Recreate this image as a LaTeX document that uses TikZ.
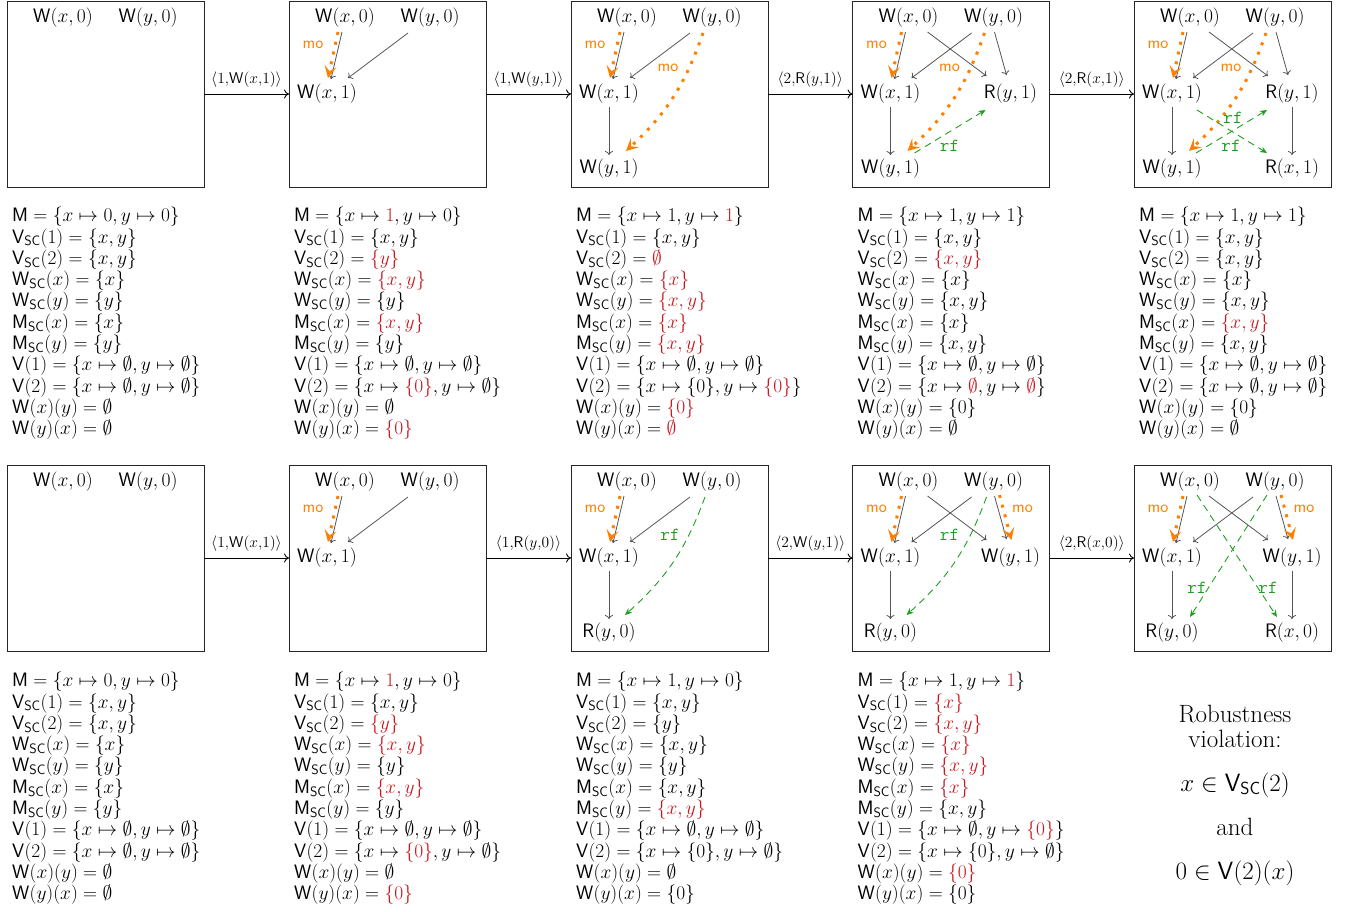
\RequirePackage{fix-cm}
\documentclass[tikz,border=0pt]{standalone}
\usepackage{amsmath}
\usetikzlibrary{arrows.meta,calc}
\definecolor{myred}{HTML}{C8161D}
\definecolor{moorange}{HTML}{FF8000}
\definecolor{rfgreen}{HTML}{1E9E1E}
\definecolor{pogray}{HTML}{555555}
\newcommand{\opM}{\mathsf{M}}
\newcommand{\opV}{\mathsf{V}}
\newcommand{\opW}{\mathsf{W}}
\newcommand{\opR}{\mathsf{R}}
\newcommand{\scsub}{_{\mathsf{SC}}}
\newcommand{\hl}[1]{\textcolor{myred}{#1}}
\tikzset{
 box/.style={draw=black!85, line width=0.9pt, minimum width=197pt, minimum height=186pt, inner sep=0pt, outer sep=0pt, anchor=north west},
 ev/.style={font=\fontsize{19.5}{21}\selectfont, inner sep=1pt},
 po/.style={draw=pogray, line width=0.8pt, -{To[length=4pt,width=8pt]}},
 mo/.style={draw=moorange, line width=3pt, dash pattern=on 3pt off 7pt, -{Stealth[length=12pt,width=12pt,inset=5pt]}},
 rf/.style={draw=rfgreen, line width=0.9pt, dash pattern=on 7pt off 5pt, -{Stealth[length=7pt,width=6pt]}},
 molbl/.style={text=moorange, font=\sffamily\fontsize{17}{17}\selectfont, inner sep=0pt},
 rflbl/.style={text=rfgreen, font=\ttfamily\fontsize{18.5}{18.5}\selectfont, inner sep=0pt},
 trans/.style={draw=black, line width=0.9pt, -{To[length=5pt,width=9pt]}},
 tlbl/.style={font=\fontsize{15.5}{15.5}\selectfont, inner sep=0pt, above=6pt},
 info/.style={font=\fontsize{19.4}{21.3}\selectfont, align=left, anchor=north west, inner sep=0pt},
 robust/.style={font=\fontsize{25}{25}\selectfont, align=center, anchor=north, inner sep=0pt},
}
% common edge groups
\newcommand{\edgesA}[1]{%
 \draw[po] ($(#1x0)+(-3,14)$) -- ($(#1a)+(4,-15)$);
 \draw[mo] ($(#1x0)+(-7,14)$) -- ($(#1a)+(1,-16)$);
 \draw[po] ($(#1y0)+(-22,15)$) -- ($(#1a)+(21,-16)$);
 \node[molbl] (#1lmo) at ($(#1x0)+(-32,27)$) {mo};}
\newcommand{\edgesB}[1]{%
 \draw[po] ($(#1x0)+(19,14)$) -- ($(#1b)+(-24,-18)$);
 \draw[po] ($(#1y0)+(1,14)$) -- ($(#1b)+(-4,-19)$);}
\newcommand{\blockA}{%
$\opM = \{x \mapsto 0, y \mapsto 0\}$\\
$\opV\scsub(1) = \{x, y\}$\\
$\opV\scsub(2) = \{x, y\}$\\
$\opW\scsub(x) = \{x\}$\\
$\opW\scsub(y) = \{y\}$\\
$\opM\scsub(x) = \{x\}$\\
$\opM\scsub(y) = \{y\}$\\
$\opV(1) = \{x \mapsto \emptyset, y \mapsto \emptyset\}$\\
$\opV(2) = \{x \mapsto \emptyset, y \mapsto \emptyset\}$\\
$\opW(x)(y) = \emptyset$\\
$\opW(y)(x) = \emptyset$}
\newcommand{\blockB}{%
$\opM = \{x \mapsto \hl{1}, y \mapsto 0\}$\\
$\opV\scsub(1) = \{x, y\}$\\
$\opV\scsub(2) = \hl{\{y\}}$\\
$\opW\scsub(x) = \hl{\{x, y\}}$\\
$\opW\scsub(y) = \{y\}$\\
$\opM\scsub(x) = \hl{\{x, y\}}$\\
$\opM\scsub(y) = \{y\}$\\
$\opV(1) = \{x \mapsto \emptyset, y \mapsto \emptyset\}$\\
$\opV(2) = \{x \mapsto \hl{\{0\}}, y \mapsto \emptyset\}$\\
$\opW(x)(y) = \emptyset$\\
$\opW(y)(x) = \hl{\{0\}}$}
\begin{document}
\begin{tikzpicture}[x=1pt,y=-1pt]
\useasboundingbox (0,0) rectangle (1358,911);
% boxes
\node[box] (b11) at (7,1) {};
\node[box] (b12) at (289,1) {};
\node[box] (b13) at (571,1) {};
\node[box] (b14) at (852.5,1) {};
\node[box] (b15) at (1134,1) {};
\node[box] (b21) at (7,465) {};
\node[box] (b22) at (289,465) {};
\node[box] (b23) at (571,465) {};
\node[box] (b24) at (852.5,465) {};
\node[box] (b25) at (1134,465) {};
% transitions
\draw[trans] (b11.east) -- node[tlbl] {$\langle 1{,}\opW(x{,}1)\rangle$} (b12.west);
\draw[trans] (b12.east) -- node[tlbl] {$\langle 1{,}\opW(y{,}1)\rangle$} (b13.west);
\draw[trans] (b13.east) -- node[tlbl] {$\langle 2{,}\opR(y{,}1)\rangle$} (b14.west);
\draw[trans] (b14.east) -- node[tlbl] {$\langle 2{,}\opR(x{,}1)\rangle$} (b15.west);
\draw[trans] (b21.east) -- node[tlbl] {$\langle 1{,}\opW(x{,}1)\rangle$} (b22.west);
\draw[trans] (b22.east) -- node[tlbl] {$\langle 1{,}\opR(y{,}0)\rangle$} (b23.west);
\draw[trans] (b23.east) -- node[tlbl] {$\langle 2{,}\opW(y{,}1)\rangle$} (b24.west);
\draw[trans] (b24.east) -- node[tlbl] {$\langle 2{,}\opR(x{,}0)\rangle$} (b25.west);

% ---------- Row 1 ----------
\begin{scope}[shift={(7,1)}]
\node[ev] (Px0) at (56,17) {$\opW(x, 0)$};
\node[ev] (Py0) at (141,17) {$\opW(y, 0)$};
\end{scope}
\begin{scope}[shift={(289,1)}]
\node[ev] (Qx0) at (56,17) {$\opW(x, 0)$};
\node[ev] (Qy0) at (141,17) {$\opW(y, 0)$};
\node[ev] (Qa) at (38,93) {$\opW(x, 1)$};
\end{scope}
\edgesA{Q}
\begin{scope}[shift={(571,1)}]
\node[ev] (Sx0) at (56,17) {$\opW(x, 0)$};
\node[ev] (Sy0) at (141,17) {$\opW(y, 0)$};
\node[ev] (Sa) at (38,93) {$\opW(x, 1)$};
\node[ev] (Sc) at (38,168) {$\opW(y, 1)$};
\end{scope}
\edgesA{S}
\draw[po] ($(Sa)+(0,13)$) -- ($(Sc)+(0,-14)$);
\draw[mo] ($(Sy0)+(-9,15)$) to[bend left=14] ($(Sc)+(17,-18)$);
\node[molbl] (Smo2) at ($(Sy0)+(-44,50)$) {mo};
\begin{scope}[shift={(852.5,1)}]
\node[ev] (Tx0) at (56,17) {$\opW(x, 0)$};
\node[ev] (Ty0) at (141,17) {$\opW(y, 0)$};
\node[ev] (Ta) at (38,93) {$\opW(x, 1)$};
\node[ev] (Tb) at (158,93) {$\opR(y, 1)$};
\node[ev] (Tc) at (38,168) {$\opW(y, 1)$};
\end{scope}
\edgesA{T}
\edgesB{T}
\draw[po] ($(Ta)+(0,13)$) -- ($(Tc)+(0,-14)$);
\draw[mo] ($(Ty0)+(-9,15)$) to[bend left=14] ($(Tc)+(17,-18)$);
\node[molbl] (Tmo2) at ($(Ty0)+(-44,50)$) {mo};
\draw[rf] ($(Tc)+(24,-16)$) -- ($(Tb)+(-25,16)$);
\node[rflbl] (Trf) at ($(Tc)+(59,-23)$) {rf};
\begin{scope}[shift={(1134,1)}]
\node[ev] (Ux0) at (56,17) {$\opW(x, 0)$};
\node[ev] (Uy0) at (141,17) {$\opW(y, 0)$};
\node[ev] (Ua) at (38,93) {$\opW(x, 1)$};
\node[ev] (Ub) at (158,93) {$\opR(y, 1)$};
\node[ev] (Uc) at (38,168) {$\opW(y, 1)$};
\node[ev] (Ud) at (158,168) {$\opR(x, 1)$};
\end{scope}
\edgesA{U}
\edgesB{U}
\draw[po] ($(Ua)+(0,13)$) -- ($(Uc)+(0,-14)$);
\draw[po] ($(Ub)+(0,13)$) -- ($(Ud)+(0,-14)$);
\draw[mo] ($(Uy0)+(-9,15)$) to[bend left=14] ($(Uc)+(17,-18)$);
\node[molbl] (Umo2) at ($(Uy0)+(-44,50)$) {mo};
\draw[rf] ($(Uc)+(24,-16)$) -- ($(Ub)+(-25,16)$);
\node[rflbl] (Urf1) at ($(Uc)+(59,-23)$) {rf};
\draw[rf] ($(Ua)+(25,16)$) -- ($(Ud)+(-25,-16)$);
\node[rflbl] (Urf2) at ($(Ua)+(61,24)$) {rf};

% ---------- Row 2 ----------
\begin{scope}[shift={(7,465)}]
\node[ev] (Vx0) at (56,17) {$\opW(x, 0)$};
\node[ev] (Vy0) at (141,17) {$\opW(y, 0)$};
\end{scope}
\begin{scope}[shift={(289,465)}]
\node[ev] (Wx0) at (56,17) {$\opW(x, 0)$};
\node[ev] (Wy0) at (141,17) {$\opW(y, 0)$};
\node[ev] (Wa) at (38,93) {$\opW(x, 1)$};
\end{scope}
\edgesA{W}
\begin{scope}[shift={(571,465)}]
\node[ev] (Xx0) at (56,17) {$\opW(x, 0)$};
\node[ev] (Xy0) at (141,17) {$\opW(y, 0)$};
\node[ev] (Xa) at (38,93) {$\opW(x, 1)$};
\node[ev] (Xc) at (38,168) {$\opR(y, 0)$};
\end{scope}
\edgesA{X}
\draw[po] ($(Xa)+(0,13)$) -- ($(Xc)+(0,-14)$);
\draw[rf] ($(Xy0)+(-7,15)$) to[bend left=14] ($(Xc)+(16,-18)$);
\node[rflbl] (Xrf) at ($(Xy0)+(-42,53)$) {rf};
\begin{scope}[shift={(852.5,465)}]
\node[ev] (Yx0) at (56,17) {$\opW(x, 0)$};
\node[ev] (Yy0) at (141,17) {$\opW(y, 0)$};
\node[ev] (Ya) at (38,93) {$\opW(x, 1)$};
\node[ev] (Yb) at (158,93) {$\opW(y, 1)$};
\node[ev] (Yc) at (38,168) {$\opR(y, 0)$};
\end{scope}
\edgesA{Y}
\edgesB{Y}
\draw[mo] ($(Yy0)+(6,13)$) -- ($(Yb)+(1,-18)$);
\node[molbl] (Ymo2) at ($(Yy0)+(29,27)$) {mo};
\draw[po] ($(Ya)+(0,13)$) -- ($(Yc)+(0,-14)$);
\draw[rf] ($(Yy0)+(-7,15)$) to[bend left=14] ($(Yc)+(16,-18)$);
\node[rflbl] (Yrf) at ($(Yy0)+(-44,53)$) {rf};
\begin{scope}[shift={(1134,465)}]
\node[ev] (Zx0) at (56,17) {$\opW(x, 0)$};
\node[ev] (Zy0) at (141,17) {$\opW(y, 0)$};
\node[ev] (Za) at (38,93) {$\opW(x, 1)$};
\node[ev] (Zb) at (158,93) {$\opW(y, 1)$};
\node[ev] (Zc) at (38,168) {$\opR(y, 0)$};
\node[ev] (Zd) at (158,168) {$\opR(x, 0)$};
\end{scope}
\edgesA{Z}
\edgesB{Z}
\draw[mo] ($(Zy0)+(6,13)$) -- ($(Zb)+(1,-18)$);
\node[molbl] (Zmo2) at ($(Zy0)+(29,27)$) {mo};
\draw[po] ($(Za)+(0,13)$) -- ($(Zc)+(0,-14)$);
\draw[po] ($(Zb)+(0,13)$) -- ($(Zd)+(0,-14)$);
\draw[rf] ($(Zy0)+(-8,13)$) -- ($(Zc)+(18,-16)$);
\draw[rf] ($(Zx0)+(7,13)$) -- ($(Zd)+(-15,-16)$);
\node[rflbl] (Zrf1) at ($(Zc)+(25,-45)$) {rf};
\node[rflbl] (Zrf2) at ($(Zd)+(-24,-45)$) {rf};

% ---------- state texts ----------
\node[info] (t11) at (12,207) {\blockA};
\node[info] (t12) at (294,207) {\blockB};
\node[info] (t13) at (576,207) {%
$\opM = \{x \mapsto 1, y \mapsto \hl{1}\}$\\
$\opV\scsub(1) = \{x, y\}$\\
$\opV\scsub(2) = \hl{\emptyset}$\\
$\opW\scsub(x) = \hl{\{x\}}$\\
$\opW\scsub(y) = \hl{\{x, y\}}$\\
$\opM\scsub(x) = \hl{\{x\}}$\\
$\opM\scsub(y) = \hl{\{x, y\}}$\\
$\opV(1) = \{x \mapsto \emptyset, y \mapsto \emptyset\}$\\
$\opV(2) = \{x \mapsto \{0\}, y \mapsto \hl{\{0\}}\}$\\
$\opW(x)(y) = \hl{\{0\}}$\\
$\opW(y)(x) = \hl{\emptyset}$};
\node[info] (t14) at (857.5,207) {%
$\opM = \{x \mapsto 1, y \mapsto 1\}$\\
$\opV\scsub(1) = \{x, y\}$\\
$\opV\scsub(2) = \hl{\{x, y\}}$\\
$\opW\scsub(x) = \{x\}$\\
$\opW\scsub(y) = \{x, y\}$\\
$\opM\scsub(x) = \{x\}$\\
$\opM\scsub(y) = \{x, y\}$\\
$\opV(1) = \{x \mapsto \emptyset, y \mapsto \emptyset\}$\\
$\opV(2) = \{x \mapsto \hl{\emptyset}, y \mapsto \hl{\emptyset}\}$\\
$\opW(x)(y) = \{0\}$\\
$\opW(y)(x) = \emptyset$};
\node[info] (t15) at (1139,207) {%
$\opM = \{x \mapsto 1, y \mapsto 1\}$\\
$\opV\scsub(1) = \{x, y\}$\\
$\opV\scsub(2) = \{x, y\}$\\
$\opW\scsub(x) = \{x\}$\\
$\opW\scsub(y) = \{x, y\}$\\
$\opM\scsub(x) = \hl{\{x, y\}}$\\
$\opM\scsub(y) = \{x, y\}$\\
$\opV(1) = \{x \mapsto \emptyset, y \mapsto \emptyset\}$\\
$\opV(2) = \{x \mapsto \emptyset, y \mapsto \emptyset\}$\\
$\opW(x)(y) = \{0\}$\\
$\opW(y)(x) = \emptyset$};
\node[info] (t21) at (12,672) {\blockA};
\node[info] (t22) at (294,672) {\blockB};
\node[info] (t23) at (576,672) {%
$\opM = \{x \mapsto 1, y \mapsto 0\}$\\
$\opV\scsub(1) = \{x, y\}$\\
$\opV\scsub(2) = \{y\}$\\
$\opW\scsub(x) = \{x, y\}$\\
$\opW\scsub(y) = \{y\}$\\
$\opM\scsub(x) = \{x, y\}$\\
$\opM\scsub(y) = \hl{\{x, y\}}$\\
$\opV(1) = \{x \mapsto \emptyset, y \mapsto \emptyset\}$\\
$\opV(2) = \{x \mapsto \{0\}, y \mapsto \emptyset\}$\\
$\opW(x)(y) = \emptyset$\\
$\opW(y)(x) = \{0\}$};
\node[info] (t24) at (857.5,672) {%
$\opM = \{x \mapsto 1, y \mapsto \hl{1}\}$\\
$\opV\scsub(1) = \hl{\{x\}}$\\
$\opV\scsub(2) = \hl{\{x, y\}}$\\
$\opW\scsub(x) = \hl{\{x\}}$\\
$\opW\scsub(y) = \hl{\{x, y\}}$\\
$\opM\scsub(x) = \hl{\{x\}}$\\
$\opM\scsub(y) = \{x, y\}$\\
$\opV(1) = \{x \mapsto \emptyset, y \mapsto \hl{\{0\}}\}$\\
$\opV(2) = \{x \mapsto \{0\}, y \mapsto \emptyset\}$\\
$\opW(x)(y) = \hl{\{0\}}$\\
$\opW(y)(x) = \{0\}$};
\node[robust] (viol) at (1235,704.5) {Robustness\\violation:\\[19pt]$x \in \opV\scsub(2)$\\[19pt]and\\[19pt]$0 \in \opV(2)(x)$};
\end{tikzpicture}
\end{document}
